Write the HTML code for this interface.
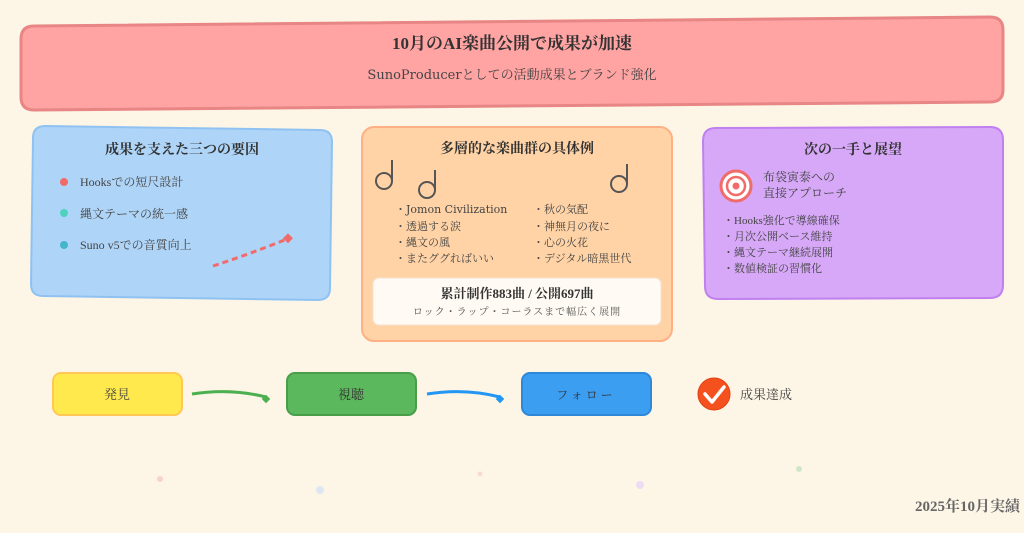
<!DOCTYPE html>
<html><head><meta charset="utf-8"><style>
html,body{margin:0;padding:0;background:#fdf6e6;}
svg{display:block;font-family:"Liberation Serif","Noto Serif CJK SC","Noto Sans CJK JP",serif;}
.dv{font-family:"DejaVu Serif","Noto Serif CJK SC",serif;}
</style></head><body>
<svg width="1024" height="533" viewBox="0 0 1024 533" xmlns="http://www.w3.org/2000/svg">
<rect width="1024" height="533" fill="#fdf6e6"/>
<path d="M34 26 L990 17 Q1003 17 1003 30 L1003 90 Q1003 102 990 102 L34 110 Q21 110 21 97 L21 39 Q21 26 34 26 Z" fill="#ffa3a3" stroke="#e88585" stroke-width="3"/>
<text x="512" y="49" text-anchor="middle" font-size="17" font-weight="bold" fill="#333">10月のAI楽曲公開で成果が加速</text>
<text x="512" y="79" text-anchor="middle" font-size="13" fill="#444" class="dv">SunoProducerとしての活動成果とブランド強化</text>
<path d="M45 126 L320 130 Q332 130 332 142 L330 288 Q330 300 318 300 L43 296 Q31 296 31 284 L33 138 Q33 126 45 126 Z" fill="#aed4f7" stroke="#8fc2f2" stroke-width="2"/>
<text x="182" y="154" text-anchor="middle" font-size="14" font-weight="bold" fill="#333">成果を支えた三つの要因</text>
<circle cx="64" cy="182" r="4" fill="#f26b6b"/>
<text x="80" y="186" font-size="12" fill="#444">Hooksでの短尺設計</text>
<circle cx="64" cy="213" r="4" fill="#4fd1c0"/>
<text x="80" y="218" font-size="12" fill="#444">縄文テーマの統一感</text>
<circle cx="64" cy="245" r="4" fill="#45b5cc"/>
<text x="80" y="249" font-size="12" fill="#444">Suno v5での音質向上</text>
<path d="M213 266 Q250 254 287 239" fill="none" stroke="#f26b6b" stroke-width="3" stroke-dasharray="6 4"/>
<rect x="284" y="235" width="7" height="7" fill="#f26b6b" transform="rotate(45 288 239)"/>
<rect x="362" y="127" width="310" height="214" rx="12" fill="#ffd3a6" stroke="#ffb085" stroke-width="2"/>
<text x="517" y="153" text-anchor="middle" font-size="14" font-weight="bold" fill="#333">多層的な楽曲群の具体例</text>
<g fill="none" stroke="#555" stroke-width="2">
<circle cx="384" cy="181" r="8"/><line x1="392" y1="181" x2="392" y2="160"/>
<circle cx="427" cy="190" r="8"/><line x1="435" y1="190" x2="435" y2="170"/>
<circle cx="619" cy="184" r="8"/><line x1="627" y1="184" x2="627" y2="164"/>
</g>
<g font-size="11" fill="#444">
<text x="395" y="213" class="dv">・Jomon Civilization</text>
<text x="395" y="230">・透過する涙</text>
<text x="395" y="246">・縄文の風</text>
<text x="395" y="262">・またググればいい</text>
<text x="533" y="213">・秋の気配</text>
<text x="533" y="230">・神無月の夜に</text>
<text x="533" y="246">・心の火花</text>
<text x="533" y="262">・デジタル暗黒世代</text>
</g>
<rect x="373" y="278" width="288" height="47" rx="6" fill="#fffaf3" stroke="#f3e3d0" stroke-width="1"/>
<text x="517" y="298" text-anchor="middle" font-size="13" font-weight="bold" fill="#333">累計制作883曲 / 公開697曲</text>
<text x="517" y="315" text-anchor="middle" font-size="10" fill="#555" letter-spacing="1">ロック・ラップ・コーラスまで幅広く展開</text>
<path d="M716 128 L990 127 Q1003 127 1003 140 L1003 285 Q1003 298 990 298 L718 299 Q705 299 705 286 L703 141 Q703 128 716 128 Z" fill="#d6a8f7" stroke="#c080f0" stroke-width="2"/>
<text x="853" y="154" text-anchor="middle" font-size="14" font-weight="bold" fill="#333">次の一手と展望</text>
<circle cx="736" cy="186" r="15" fill="#fff" stroke="#f26b6b" stroke-width="3"/>
<circle cx="736" cy="186" r="9" fill="none" stroke="#f26b6b" stroke-width="2.5"/>
<circle cx="736" cy="186" r="3.5" fill="#f26b6b"/>
<text x="763" y="181" font-size="12" fill="#444">布袋寅泰への</text>
<text x="763" y="197" font-size="12" fill="#444">直接アプローチ</text>
<g font-size="11" fill="#444">
<text x="723" y="224">・Hooks強化で導線確保</text>
<text x="723" y="240">・月次公開ベース維持</text>
<text x="723" y="256">・縄文テーマ継続展開</text>
<text x="723" y="272">・数値検証の習慣化</text>
</g>
<rect x="53" y="373" width="129" height="42" rx="8" fill="#ffe94d" stroke="#ffc857" stroke-width="2"/>
<text x="117" y="399" text-anchor="middle" font-size="13" fill="#444">発見</text>
<path d="M192 394 Q230 388 266 397" fill="none" stroke="#4caf50" stroke-width="3"/>
<rect x="263" y="396" width="6" height="6" fill="#4caf50" transform="rotate(45 266 399)"/>
<rect x="287" y="373" width="129" height="42" rx="8" fill="#5cb85c" stroke="#4a9e4a" stroke-width="2"/>
<text x="351" y="399" text-anchor="middle" font-size="13" fill="#333">視聴</text>
<path d="M427 394 Q465 388 500 397" fill="none" stroke="#2196f3" stroke-width="3"/>
<rect x="497" y="396" width="6" height="6" fill="#2196f3" transform="rotate(45 500 399)"/>
<rect x="522" y="373" width="129" height="42" rx="8" fill="#3b9ef0" stroke="#2e88d8" stroke-width="2"/>
<text x="586" y="399" text-anchor="middle" font-size="12" fill="#333" letter-spacing="3">フォロー</text>
<circle cx="714" cy="394" r="16" fill="#f4511e" stroke="#e04010" stroke-width="1"/>
<path d="M705 394 L712 402 L724 387" fill="none" stroke="#fff" stroke-width="3.5" stroke-linecap="round" stroke-linejoin="round"/>
<text x="740" y="399" font-size="13" fill="#444">成果達成</text>
<circle cx="160" cy="479" r="3" fill="#f7d3c8"/>
<circle cx="320" cy="490" r="4" fill="#dde6f3"/>
<circle cx="480" cy="474" r="2.5" fill="#f7dcd3"/>
<circle cx="640" cy="485" r="4" fill="#eedcf3"/>
<circle cx="799" cy="469" r="3" fill="#cfe6c8"/>
<text x="1020" y="511" text-anchor="end" font-size="15" font-weight="bold" fill="#666">2025年10月実績</text>
</svg>
</body></html>
